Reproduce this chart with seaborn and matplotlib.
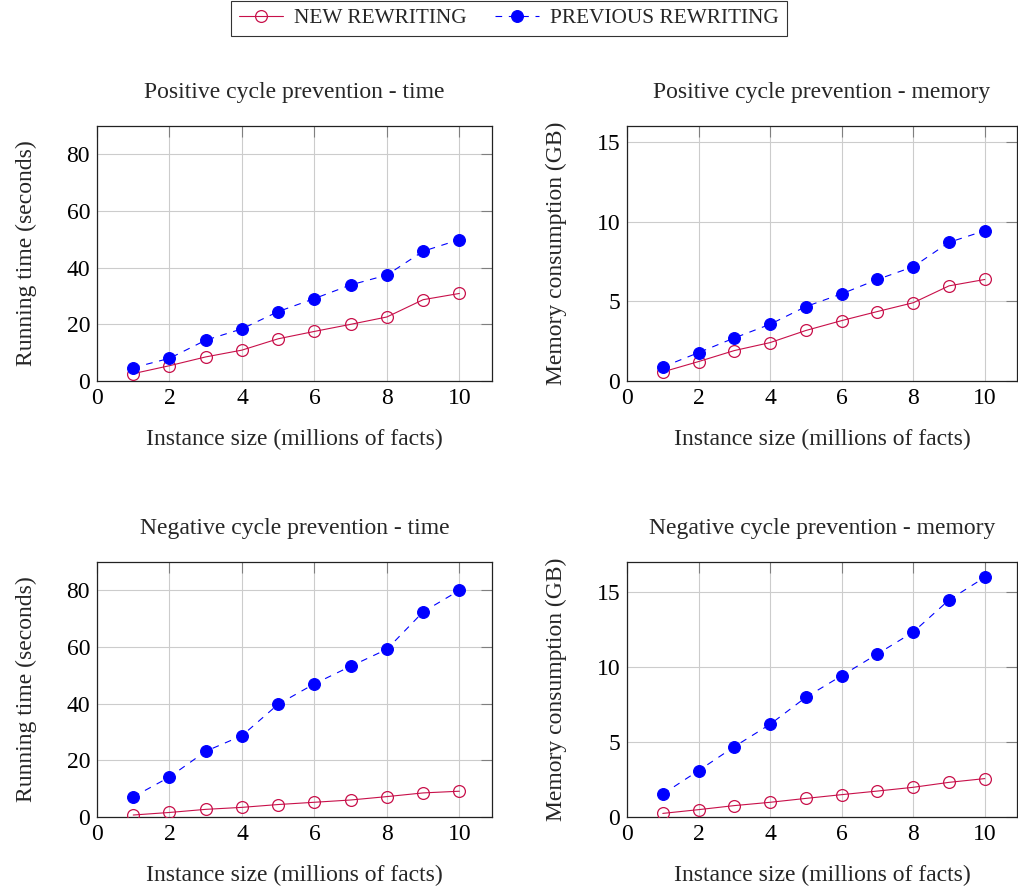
import numpy as np
import pandas as pd
import matplotlib
matplotlib.use("Agg")
import matplotlib.pyplot as plt
import seaborn as sns

# ---- data ----
sizes = [1, 2, 3, 4, 5, 6, 7, 8, 9, 10]

pos_time_new = [2.6, 5.4, 8.5, 10.9, 14.9, 17.5, 20.0, 22.6, 28.7, 30.9]
pos_time_prev = [4.7, 8.0, 14.4, 18.4, 24.5, 29.1, 33.9, 37.4, 45.8, 49.9]

pos_mem_new = [0.57, 1.22, 1.91, 2.41, 3.17, 3.79, 4.36, 4.91, 5.97, 6.37]
pos_mem_prev = [0.88, 1.78, 2.70, 3.56, 4.67, 5.47, 6.37, 7.17, 8.70, 9.43]

neg_time_new = [0.7, 1.6, 2.7, 3.4, 4.4, 5.2, 6.0, 7.2, 8.5, 9.1]
neg_time_prev = [7.1, 14.1, 23.2, 28.7, 39.8, 47.0, 53.2, 59.2, 72.4, 80.0]

neg_mem_new = [0.24, 0.49, 0.76, 0.98, 1.24, 1.49, 1.73, 1.98, 2.31, 2.56]
neg_mem_prev = [1.53, 3.09, 4.69, 6.18, 7.98, 9.42, 10.87, 12.33, 14.47, 15.98]

titles = ["Positive cycle prevention - time", "Positive cycle prevention - memory",
          "Negative cycle prevention - time", "Negative cycle prevention - memory"]
ylabels = ["Running time (seconds)", "Memory consumption (GB)",
           "Running time (seconds)", "Memory consumption (GB)"]
xlabel = "Instance size (millions of facts)"
series_names = ["NEW REWRITING", "PREVIOUS REWRITING"]
time_ticks = [0, 20, 40, 60, 80]
mem_ticks = [0, 5, 10, 15]
x_ticks = [0, 2, 4, 6, 8, 10]

# ---- style ----
sns.set_style("white")
plt.rcParams["font.family"] = ["Liberation Serif", "DejaVu Serif"]

RED = "#C8104A"
BLUE = "#0000FF"

fig = plt.figure(figsize=(10.18, 8.92), dpi=100)
W, H = 1018.0, 892.0

def axrect(left, top, right, bottom):
    return [left / W, 1 - bottom / H, (right - left) / W, (bottom - top) / H]

rects = [axrect(97, 126, 492, 381), axrect(627, 126, 1017, 381),
         axrect(97, 562, 492, 817), axrect(627, 562, 1017, 817)]
datasets = [(pos_time_new, pos_time_prev, (0, 90), time_ticks),
            (pos_mem_new, pos_mem_prev, (0, 16), mem_ticks),
            (neg_time_new, neg_time_prev, (0, 90), time_ticks),
            (neg_mem_new, neg_mem_prev, (0, 17), mem_ticks)]

handles = None
for i, (rect, (new, prev, ylim, yticks)) in enumerate(zip(rects, datasets)):
    ax = fig.add_axes(rect)
    df = pd.DataFrame({"x": sizes, "new": new, "prev": prev})
    sns.lineplot(data=df, x="x", y="new", ax=ax, color=RED, lw=0.8,
                 marker="o", markersize=8.5, mfc="none", mec=RED, mew=0.9,
                 label=series_names[0], legend=False, zorder=3)
    sns.lineplot(data=df, x="x", y="prev", ax=ax, color=BLUE, lw=0.8,
                 linestyle=(0, (6, 6)), marker="o", markersize=8.5, mfc=BLUE,
                 mec=BLUE, mew=0.8, label=series_names[1], legend=False, zorder=3)
    ax.set_xlim(0, 10.9)
    ax.set_ylim(*ylim)
    ax.set_xticks(x_ticks)
    ax.set_yticks(yticks)
    ax.grid(True, color="#cccccc", lw=0.8)
    ax.set_axisbelow(True)
    ax.tick_params(direction="in", length=8, width=0.8, color="#7f7f7f",
                   top=True, right=True, labelsize=17, pad=5,
                   labelcolor="black")
    for sp in ax.spines.values():
        sp.set_color("#222222")
        sp.set_linewidth(0.9)
        sp.set_visible(True)
    ax.set_title(titles[i], fontsize=17, pad=20)
    ax.set_xlabel(xlabel, fontsize=17, labelpad=14)
    ax.set_ylabel(ylabels[i], fontsize=17, labelpad=21.5)
    if handles is None:
        handles = list(ax.get_lines())

leg = fig.legend(handles[:2], series_names, loc="upper center",
                 bbox_to_anchor=(0.5, 0.999), ncol=2, frameon=True,
                 fancybox=False, edgecolor="black", fontsize=15.3,
                 handlelength=2.1, handletextpad=0.52, columnspacing=1.3,
                 borderaxespad=0, borderpad=0.35)
leg.get_frame().set_linewidth(0.8)

fig.savefig("out.png", dpi=100)
